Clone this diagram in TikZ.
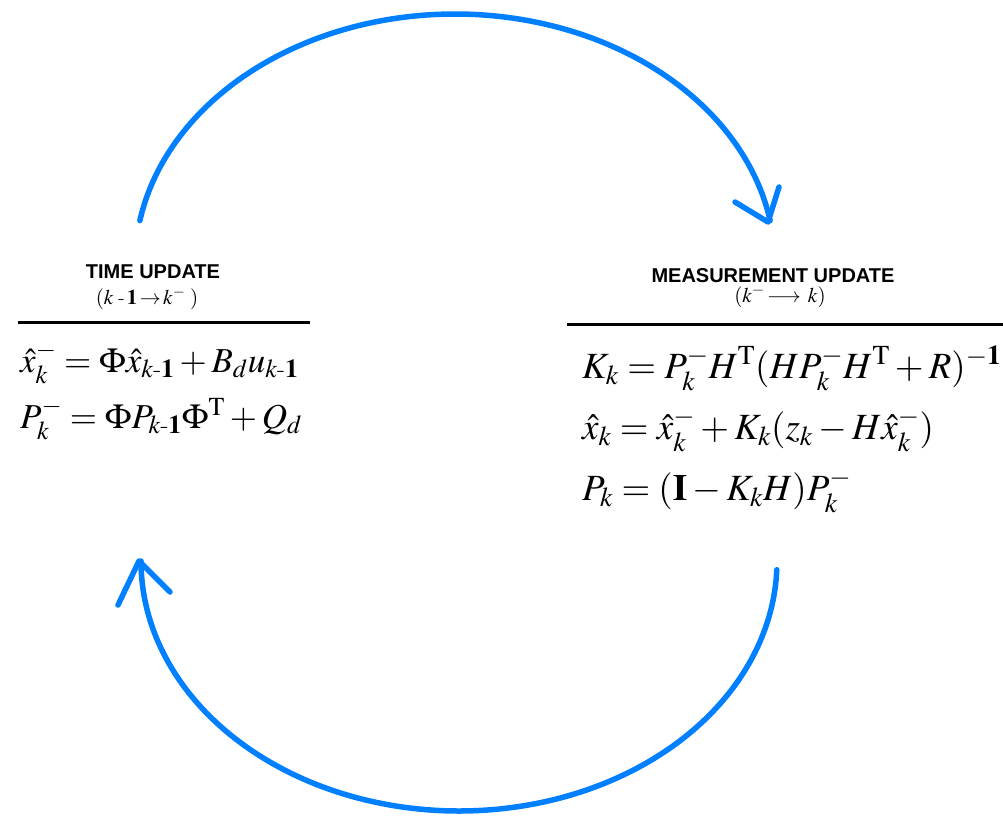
\documentclass[tikz,border=0pt]{standalone}
\usepackage{amsmath}
\usepackage{mathptmx}
\usepackage[no-math]{fontspec}
\setsansfont{Liberation Sans}
\usetikzlibrary{arrows.meta}
\definecolor{cyc}{RGB}{0,128,255}
\begin{document}
\begin{tikzpicture}[x=1pt,y=-1pt,
  cycarrow/.style={draw=cyc,line width=5.5pt,line cap=round,line join=round},
  hdr/.style={font=\sffamily\bfseries\fontsize{20}{24}\selectfont,inner sep=0pt,anchor=base},
  sub/.style={font=\fontsize{21}{24}\selectfont,inner sep=0pt,anchor=base},
  eqL/.style={font=\fontsize{35}{56}\selectfont,inner sep=0pt,anchor=base west},
  eqR/.style={font=\fontsize{37}{61}\selectfont,inner sep=0pt,anchor=base west},
  rule/.style={line width=3pt}]
\useasboundingbox (0,0) rectangle (1003,815);
% headings
\node[hdr] (th) at (153,278) {TIME UPDATE};
\node[sub] (ts) at (147,304) {$(k\;\text{-}\,\mathbf{1}\!\rightarrow\! k^{-}\;)$};
\node[hdr] (mh) at (773,282) {MEASUREMENT UPDATE};
\node[sub] (ms) at (780,302) {$(k^{-}\!\longrightarrow\, k)$};
% rules
\coordinate (l1) at (18,322); \coordinate (l2) at (310,322);
\coordinate (r1) at (567,324); \coordinate (r2) at (1003,324);
\draw[rule] (l1) -- (l2);
\draw[rule] (r1) -- (r2);
% left equations
\node[eqL] (eL) at (20,372) {\begin{tabular}[t]{@{}l@{}}
$\hat{x}_k^{-} = \Phi\hat{x}_{k\text{-}\mathbf{1}} + B_d u_{k\text{-}\mathbf{1}}$\\
$P_k^{-} = \Phi P_{k\text{-}\mathbf{1}}\Phi^{\mathrm{T}} + Q_d$
\end{tabular}};
% right equations
\node[eqR] (eR) at (582,378) {\begin{tabular}[t]{@{}l@{}}
$K_k = P_k^{-} H^{\mathrm{T}}(HP_k^{-}H^{\mathrm{T}} + R)^{-\mathbf{1}}$\\
$\hat{x}_k = \hat{x}_k^{-} + K_k(z_k - H\hat{x}_k^{-})$\\
$P_k = (\mathbf{I} - K_k H)P_k^{-}$
\end{tabular}};
% cycle arrows
\coordinate (ttip) at (768,222);
\coordinate (ta1) at (735,202);
\coordinate (ta2) at (779,187);
\coordinate (btip) at (139,561);
\coordinate (ba1) at (118,605);
\coordinate (ba2) at (170,592);
\draw[cycarrow]
  plot[domain=170:10,samples=80,smooth] ({455+320*cos(\x)},{264-250*sin(\x)});
\draw[cycarrow] (ta1) -- (ttip) -- (ta2);
\draw[cycarrow]
  plot[domain=2:180,samples=80,smooth] ({459+318*cos(\x)},{561+250*sin(\x)});
\draw[cycarrow] (ba1) -- (btip) -- (ba2);
\end{tikzpicture}
\end{document}
